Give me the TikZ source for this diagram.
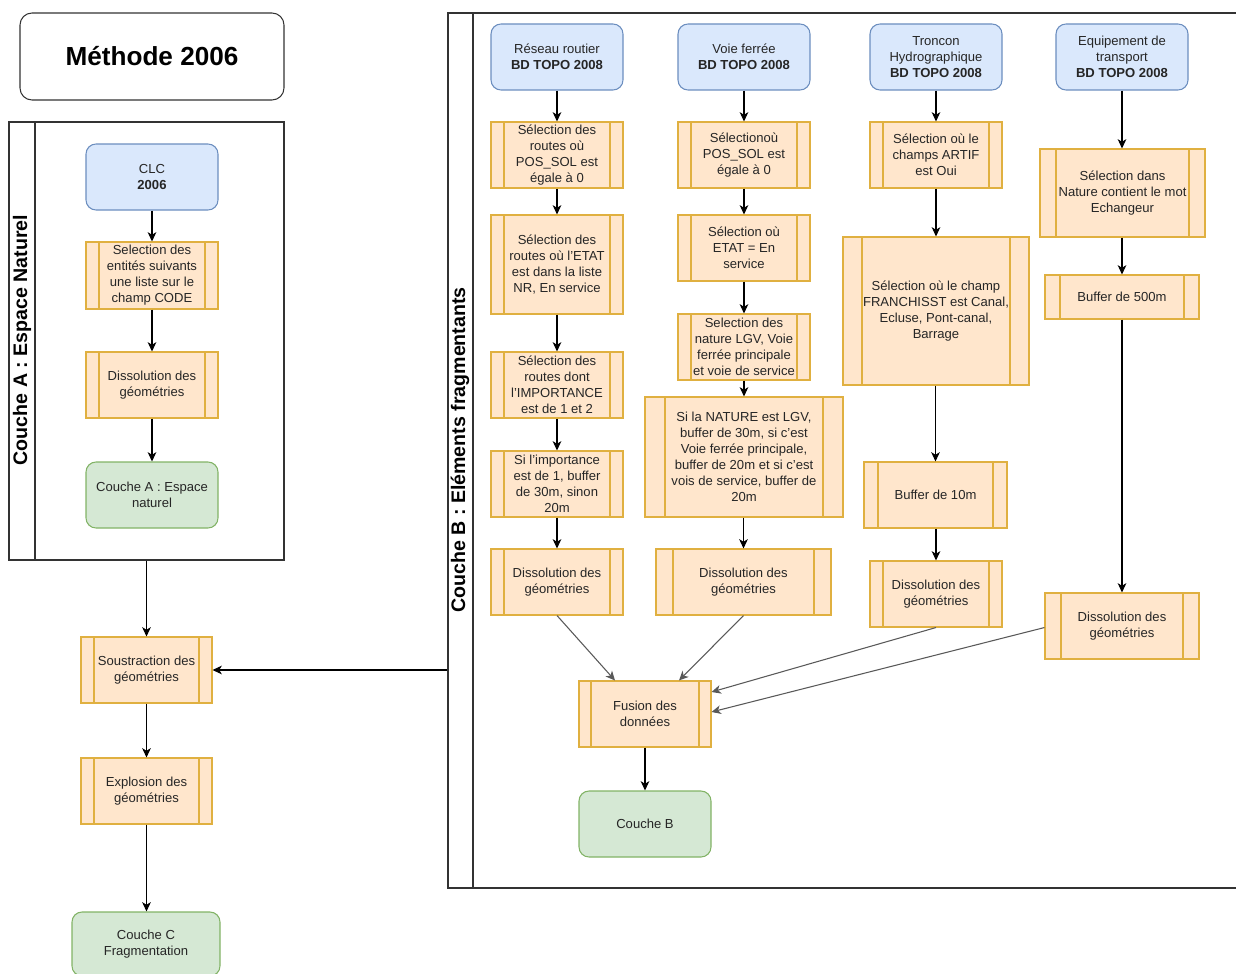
\documentclass[tikz,border=0pt]{standalone}
\usepackage{fontspec}
\setmainfont{Liberation Sans}
\usetikzlibrary{fit,arrows.meta}
\definecolor{bfill}{HTML}{DAE8FC}
\definecolor{bdraw}{HTML}{6C8EBF}
\definecolor{ofill}{HTML}{FFE6CC}
\definecolor{odraw}{HTML}{E0B040}
\definecolor{gfill}{HTML}{D5E8D4}
\definecolor{gdraw}{HTML}{82B366}
\tikzset{
  inoff/.store in=\inoff, inoff=13,
  base/.style={inner sep=0pt, line width=0.8pt},
  txt/.style={inner sep=0pt, align=center, font=\fontsize{9.8}{12}\selectfont, text=black!85},
  src/.style={base, draw=bdraw, fill=bfill, rounded corners=7.5pt},
  res/.style={base, draw=gdraw, fill=gfill, rounded corners=7.5pt},
  proc/.style={base, draw=odraw, fill=ofill,
    path picture={\draw[odraw, line width=0.8pt]
      ([xshift=\inoff*0.75pt]path picture bounding box.north west) --
      ([xshift=\inoff*0.75pt]path picture bounding box.south west)
      ([xshift=-\inoff*0.75pt]path picture bounding box.north east) --
      ([xshift=-\inoff*0.75pt]path picture bounding box.south east);}},
  cont/.style={inner sep=0pt, draw=black!80, line width=0.8pt},
  vlabel/.style={rotate=90, font=\fontsize{14.7}{17}\selectfont\bfseries, text=black},
  arr/.style={-{Stealth[length=7pt,width=6.5pt,inset=2pt]}, draw=black, line width=0.8pt},
  garr/.style={arr, draw=black!65}
}
% #1 style, #2 name, #3 corners, #4 text
\newcommand\mkbox[4]{%
  \node[#1, fit={#3}] (#2) {};
  \node[txt] (#2-t) at (#2.center) {#4};}
\begin{document}
\begin{tikzpicture}[x=0.75pt,y=-0.75pt]
\useasboundingbox (0,0) rectangle (1236,974);
% title
\node[cont, rounded corners=9pt, fit={(20,13) (284,100)}] (title) {};
\node[txt, font=\fontsize{19.6}{23}\selectfont\bfseries, text=black] (title-t) at (title.center) {Méthode 2006};
% containers
\node[cont, fit={(9,122) (284,560)}] (contA) {};
\draw[draw=black!80, line width=0.8pt] (35,122) -- (35,560);
\node[vlabel] (labA) at (22,340) {Couche A : Espace Naturel};
\node[cont, fit={(448,13) (1245,888)}] (contB) {};
\draw[draw=black!80, line width=0.8pt] (473,13) -- (473,888);
\node[vlabel] (labB) at (460,450) {Couche B : Eléments fragmentants};
% Couche A
\mkbox{src}{clc}{(86,144) (218,210)}{CLC\\\textbf{2006}}
\mkbox{proc}{selA}{(86,242) (218,309)}{Selection des\\entités suivants\\une liste sur le\\champ CODE}
\mkbox{proc}{dissA}{(86,352) (218,418)}{Dissolution des\\géométries}
\mkbox{res}{coucheA}{(86,462) (218,528)}{Couche A : Espace\\naturel}
% bottom left
\mkbox{proc}{sous}{(81,637) (212,703)}{Soustraction des\\géométries}
\mkbox{proc}{expl}{(81,758) (212,824)}{Explosion des\\géométries}
\mkbox{res}{coucheC}{(72,912) (220,976)}{Couche C\\Fragmentation}
% column 1
\mkbox{src}{rr}{(491,24) (623,90)}{Réseau routier\\\textbf{BD TOPO 2008}}
\mkbox{proc}{c1a}{(491,122) (623,188)}{Sélection des\\routes où\\POS\_SOL est\\égale à 0}
\mkbox{proc}{c1b}{(491,215) (623,314)}{Sélection des\\routes où l'ETAT\\est dans la liste\\NR, En service}
\mkbox{proc}{c1c}{(491,352) (623,418)}{Sélection des\\routes dont\\l'IMPORTANCE\\est de 1 et 2}
\mkbox{proc}{c1d}{(491,451) (623,517)}{Si l'importance\\est de 1, buffer\\de 30m, sinon\\20m}
\mkbox{proc}{d1}{(491,549) (623,615)}{Dissolution des\\géométries}
% column 2
\mkbox{src}{vf}{(678,24) (810,90)}{Voie ferrée\\\textbf{BD TOPO 2008}}
\mkbox{proc}{c2a}{(678,122) (810,188)}{Sélectionoù\\POS\_SOL est\\égale à 0}
\mkbox{proc}{c2b}{(678,215) (810,281)}{Sélection où\\ETAT = En\\service}
\mkbox{proc}{c2c}{(678,314) (810,380)}{Selection des\\nature LGV, Voie\\ferrée principale\\et voie de service}
\mkbox{proc,inoff=20}{c2d}{(645,397) (843,517)}{Si la NATURE est LGV,\\buffer de 30m, si c'est\\Voie ferrée principale,\\buffer de 20m et si c'est\\vois de service, buffer de\\20m}
\mkbox{proc,inoff=17}{d2}{(656,549) (831,615)}{Dissolution des\\géométries}
% column 3
\mkbox{src}{th}{(870,24) (1002,90)}{Troncon\\Hydrographique\\\textbf{BD TOPO 2008}}
\mkbox{proc}{c3a}{(870,122) (1002,188)}{Sélection où le\\champs ARTIF\\est Oui}
\mkbox{proc,inoff=19}{c3b}{(843,237) (1029,385)}{Sélection où le champ\\FRANCHISST est Canal,\\Ecluse, Pont-canal,\\Barrage}
\mkbox{proc,inoff=14}{c3c}{(864,462) (1007,528)}{Buffer de 10m}
\mkbox{proc}{d3}{(870,561) (1002,627)}{Dissolution des\\géométries}
% column 4
\mkbox{src}{et}{(1056,24) (1188,90)}{Equipement de\\transport\\\textbf{BD TOPO 2008}}
\mkbox{proc,inoff=16}{c4a}{(1040,149) (1205,237)}{Sélection dans\\Nature contient le mot\\Echangeur}
\mkbox{proc,inoff=15}{c4b}{(1045,275) (1199,319)}{Buffer de 500m}
\mkbox{proc,inoff=16}{d4}{(1045,593) (1199,659)}{Dissolution des\\géométries}
% fusion
\mkbox{proc,inoff=12}{fus}{(579,681) (711,747)}{Fusion des\\données}
\mkbox{res}{coucheB}{(579,791) (711,857)}{Couche B}
% arrows Couche A
\draw[arr] (clc) -- (selA);
\draw[arr] (selA) -- (dissA);
\draw[arr] (dissA) -- (coucheA);
\draw[arr] (contA.south) -- (sous.north);
\draw[arr] (sous.east -| contB.west) -- (sous.east);
\draw[arr] (sous) -- (expl);
\draw[arr] (expl.south) -- (coucheC.north -| expl.south);
% column arrows
\draw[arr] (rr) -- (c1a);
\draw[arr] (c1a) -- (c1b);
\draw[arr] (c1b) -- (c1c);
\draw[arr] (c1c) -- (c1d);
\draw[arr] (c1d) -- (d1);
\draw[arr] (vf) -- (c2a);
\draw[arr] (c2a) -- (c2b);
\draw[arr] (c2b) -- (c2c);
\draw[arr] (c2c.south) -- (c2d.north -| c2c.south);
\draw[arr] (c2d.south -| d2.north) -- (d2.north);
\draw[arr] (th) -- (c3a);
\draw[arr] (c3a.south) -- (c3b.north -| c3a.south);
\draw[arr] (c3b.south -| c3c.north) -- (c3c.north);
\draw[arr] (c3c.south -| d3.north) -- (d3.north);
\draw[arr] (et.south) -- (c4a.north -| et.south);
\draw[arr] (c4a.south -| c4b.north) -- (c4b.north);
\draw[arr] (c4b) -- (d4);
% to fusion
\draw[garr] (d1.south) -- ([xshift=-22.5pt]fus.north);
\draw[garr] (d2.south) -- ([xshift=25.5pt]fus.north);
\draw[garr] (d3.south) -- ([yshift=16.5pt]fus.east);
\draw[garr] (d4.west |- d3.south) -- ([yshift=1.5pt]fus.east);
\draw[arr] (fus) -- (coucheB);
\end{tikzpicture}
\end{document}
